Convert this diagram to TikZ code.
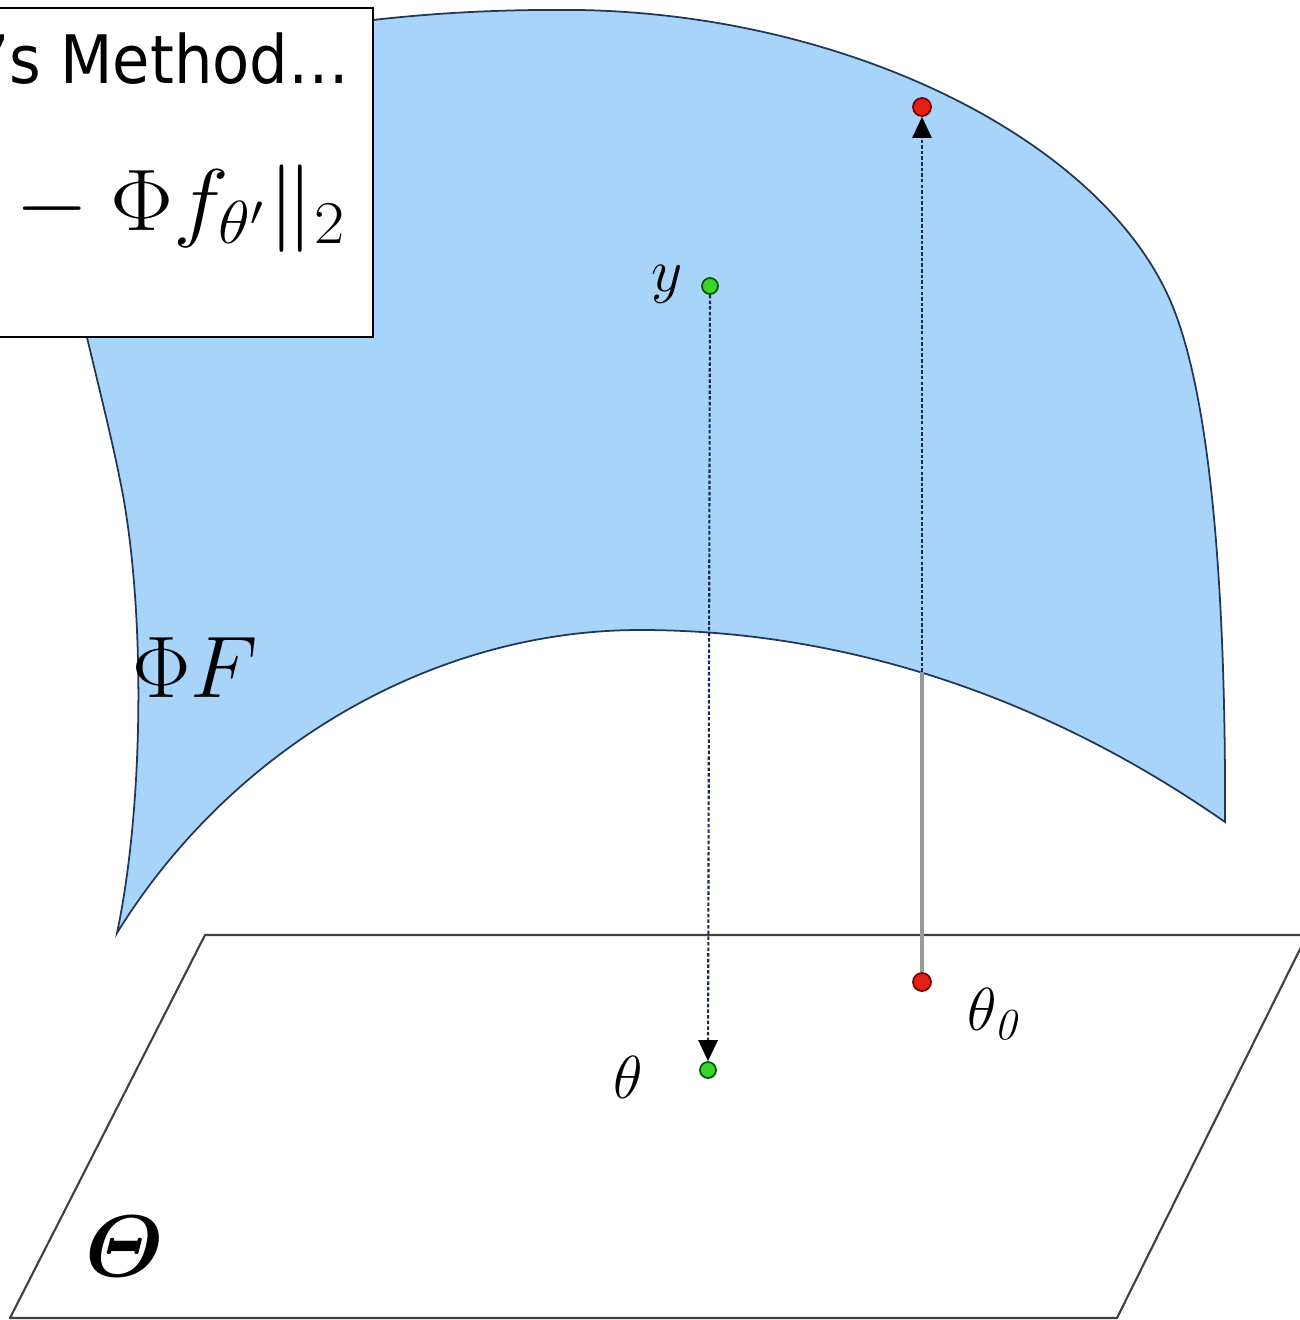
\documentclass[tikz,border=0pt]{standalone}
\usepackage{amsmath,amssymb}
\usepackage{fontspec}
\usetikzlibrary{arrows.meta}
\newfontfamily\slidefont{DejaVu Sans}
\definecolor{surfblue}{RGB}{168,212,250}
\definecolor{surfline}{RGB}{35,55,85}
\definecolor{dashnavy}{RGB}{25,40,80}
\definecolor{dotgreen}{RGB}{60,210,50}
\definecolor{dotred}{RGB}{228,32,20}

\begin{document}
\begin{tikzpicture}[x=0.01cm, y=-0.01cm,
    surface/.style={fill=surfblue, draw=surfline, line width=0.5pt},
    plane/.style={draw=black!75, line width=0.6pt, line join=round},
    gdot/.style={circle, inner sep=0pt, minimum size=0.16cm, fill=dotgreen, draw=green!35!black, line width=0.5pt},
    rdot/.style={circle, inner sep=0pt, minimum size=0.18cm, fill=dotred, draw=red!45!black, line width=0.5pt},
    proj/.style={draw=dashnavy, line width=0.6pt, dash pattern=on 1pt off 0.6pt,
        -{Triangle[length=6pt, width=5.5pt, color=black]}},
    lift/.style={draw=black!40, line width=0.9pt},
    lbl/.style={inner sep=0pt}]
    \useasboundingbox (0,0) rectangle (1300,1320);
    % the surface Phi F
    \draw[surface] (40,90) .. controls (250,30) and (400,8) .. (580,10)
        .. controls (850,15) and (1100,140) .. (1170,300)
        .. controls (1212,396) and (1226,600) .. (1225,822)
        .. controls (1050,700) and (850,630) .. (640,630)
        .. controls (430,630) and (230,750) .. (117,933)
        .. controls (145,800) and (145,600) .. (120,480)
        .. controls (100,380) and (60,250) .. (40,90) -- cycle;
    % parameter plane
    \draw[plane] (205,935) -- (1307,935) -- (1117,1318) -- (10,1318) -- cycle;
    % points
    \node[gdot] (y) at (710,286) {};
    \node[gdot] (theta) at (708,1070) {};
    \node[rdot] (theta0) at (922,982) {};
    \node[rdot] (top) at (922,107) {};
    \coordinate (cross) at (922,672);
    \draw[proj] (y) -- (theta);
    \draw[lift] (theta0) -- (cross);
    \draw[proj] (cross) -- (top);
    % labels
    \node[lbl] (ylbl) at (667,284) {\fontsize{17}{20}\selectfont$y$};
    \node[lbl] (thetalbl) at (628,1077) {\fontsize{18}{20}\selectfont$\theta$};
    \node[lbl] (theta0lbl) at (993,1014) {\fontsize{18}{20}\selectfont$\theta_{\mathit{0}}$};
    \node[lbl] (surflbl) at (195,668) {\fontsize{28}{32}\selectfont$\Phi F$};
    \node[lbl] (planelbl) at (125,1246) {\fontsize{28}{32}\selectfont$\boldsymbol{\varTheta}$};
    % slide box
    \draw[fill=white, draw=black, line width=0.8pt] (-20,8) rectangle (373,337);
    \node[lbl, anchor=base east] (title) at (350,83)
        {\scalebox{0.91}[1]{\slidefont\fontsize{19}{22}\selectfont ’s Method…}};
    \node[lbl, anchor=base east] (formula) at (347,230)
        {\scalebox{1.08}[1]{\fontsize{24}{28}\selectfont$\|y - \Phi f_{\theta'}\|_2$}};
\end{tikzpicture}
\end{document}
